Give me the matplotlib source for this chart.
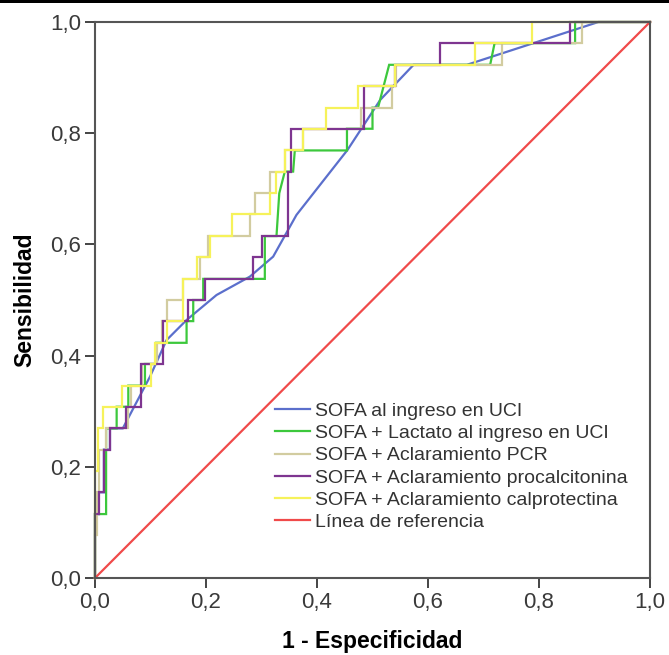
import matplotlib
matplotlib.use("Agg")
import matplotlib.pyplot as plt
from matplotlib.patches import Rectangle

# ROC curves: 1 - specificity (fpr) vs sensitivity (tpr), stepwise vertices
labels = ["SOFA al ingreso en UCI", "SOFA + Lactato al ingreso en UCI",
          "SOFA + Aclaramiento PCR", "SOFA + Aclaramiento procalcitonina",
          "SOFA + Aclaramiento calprotectina", "Línea de referencia"]
colors = ["#5b6fcc", "#3cc83c", "#d2cca0", "#7e3590", "#f6f25a", "#f04a4a"]

sofa_fpr = [0, 0, 0.007, 0.007, 0.016, 0.016, 0.027, 0.027, 0.05, 0.099, 0.129, 0.165,
            0.219, 0.279, 0.321, 0.363, 0.455, 0.514, 0.574, 0.67, 0.907, 1.0]
sofa_tpr = [0, 0.115, 0.115, 0.154, 0.154, 0.231, 0.231, 0.269, 0.269, 0.362, 0.428, 0.464,
            0.509, 0.542, 0.578, 0.653, 0.77, 0.86, 0.923, 0.923, 1.0, 1.0]

lact_fpr = [0, 0, 0.02, 0.02, 0.039, 0.039, 0.06, 0.06, 0.09, 0.09, 0.11, 0.11, 0.165, 0.165,
            0.177, 0.177, 0.195, 0.195, 0.306, 0.306, 0.327, 0.332, 0.342, 0.357, 0.36, 0.454,
            0.454, 0.5, 0.5, 0.51, 0.53, 0.712, 0.72, 0.865, 0.865, 1.0]
lact_tpr = [0, 0.115, 0.115, 0.269, 0.269, 0.308, 0.308, 0.346, 0.346, 0.385, 0.385, 0.423,
            0.423, 0.462, 0.462, 0.5, 0.5, 0.538, 0.538, 0.615, 0.615, 0.692, 0.731, 0.731,
            0.769, 0.769, 0.808, 0.808, 0.846, 0.846, 0.923, 0.923, 0.962, 0.962, 1.0, 1.0]

pcr_fpr = [0, 0, 0.004, 0.004, 0.008, 0.008, 0.02, 0.02, 0.06, 0.06, 0.065, 0.065, 0.084, 0.084,
           0.111, 0.111, 0.12, 0.12, 0.129, 0.129, 0.159, 0.159, 0.19, 0.19, 0.204, 0.204, 0.28,
           0.28, 0.288, 0.288, 0.315, 0.315, 0.342, 0.342, 0.375, 0.375, 0.48, 0.48, 0.535,
           0.535, 0.542, 0.542, 0.733, 0.733, 0.877, 0.877, 1.0]
pcr_tpr = [0, 0.077, 0.077, 0.154, 0.154, 0.231, 0.231, 0.269, 0.269, 0.308, 0.308, 0.346,
           0.346, 0.385, 0.385, 0.423, 0.423, 0.462, 0.462, 0.5, 0.5, 0.538, 0.538, 0.577,
           0.577, 0.615, 0.615, 0.654, 0.654, 0.692, 0.692, 0.731, 0.731, 0.769, 0.769, 0.808,
           0.808, 0.846, 0.846, 0.885, 0.885, 0.923, 0.923, 0.962, 0.962, 1.0, 1.0]

pct_fpr = [0, 0, 0.007, 0.007, 0.016, 0.016, 0.027, 0.027, 0.055, 0.055, 0.083, 0.083, 0.123,
           0.123, 0.168, 0.168, 0.198, 0.198, 0.285, 0.285, 0.3, 0.3, 0.348, 0.348, 0.354,
           0.354, 0.485, 0.485, 0.54, 0.54, 0.622, 0.622, 0.855, 0.855, 1.0]
pct_tpr = [0, 0.115, 0.115, 0.154, 0.154, 0.231, 0.231, 0.269, 0.269, 0.308, 0.308, 0.385,
           0.385, 0.462, 0.462, 0.5, 0.5, 0.538, 0.538, 0.577, 0.577, 0.615, 0.615, 0.731,
           0.731, 0.808, 0.808, 0.885, 0.885, 0.923, 0.923, 0.962, 0.962, 1.0, 1.0]

calp_fpr = [0, 0, 0.005, 0.005, 0.015, 0.015, 0.048, 0.048, 0.1, 0.1, 0.108, 0.108, 0.129,
            0.129, 0.159, 0.159, 0.183, 0.183, 0.207, 0.207, 0.246, 0.246, 0.315, 0.315, 0.327,
            0.327, 0.342, 0.342, 0.375, 0.375, 0.417, 0.417, 0.474, 0.474, 0.54, 0.54, 0.685,
            0.685, 0.787, 0.787, 1.0]
calp_tpr = [0, 0.192, 0.192, 0.269, 0.269, 0.308, 0.308, 0.346, 0.346, 0.385, 0.385, 0.423,
            0.423, 0.462, 0.462, 0.538, 0.538, 0.577, 0.577, 0.615, 0.615, 0.654, 0.654, 0.692,
            0.692, 0.731, 0.731, 0.769, 0.769, 0.808, 0.808, 0.846, 0.846, 0.885, 0.885, 0.923,
            0.923, 0.962, 0.962, 1.0, 1.0]

ref_x = [0, 1]
ref_y = [0, 1]

ticks = [0, 0.2, 0.4, 0.6, 0.8, 1.0]
tick_labels = ["0,0", "0,2", "0,4", "0,6", "0,8", "1,0"]

plt.rcParams["font.family"] = ["Liberation Sans", "DejaVu Sans"]

fig = plt.figure(figsize=(6.69, 6.55), dpi=100)
ax = fig.add_axes([95 / 669, 77 / 655, 555 / 669, 556 / 655])

curves = [(sofa_fpr, sofa_tpr), (lact_fpr, lact_tpr), (pcr_fpr, pcr_tpr),
          (pct_fpr, pct_tpr), (calp_fpr, calp_tpr), (ref_x, ref_y)]
for (x, y), c, lab in zip(curves, colors, labels):
    ax.plot(x, y, color=c, lw=1.6, label=lab, solid_joinstyle="miter", clip_on=False)

ax.set_xlim(0, 1)
ax.set_ylim(0, 1)
ax.set_xticks(ticks)
ax.set_yticks(ticks)
ax.set_xticklabels(tick_labels, fontsize=16, color="#3a3a3a")
ax.set_yticklabels(tick_labels, fontsize=16, color="#3a3a3a")
ax.tick_params(direction="out", length=7, width=1.4, color="#444444", pad=3)

for s in ax.spines.values():
    s.set_color("#555555")
    s.set_linewidth(1.5)

ax.set_xlabel("1 - Especificidad", fontsize=16.5, fontweight="bold", labelpad=12)
ax.set_ylabel("Sensibilidad", fontsize=16.5, fontweight="bold", labelpad=10)

leg = ax.legend(loc="upper left", bbox_to_anchor=(0.324, 0.316), frameon=False,
                fontsize=14, handlelength=1.8, handletextpad=0.25, labelspacing=0.24,
                borderpad=0, borderaxespad=0)
for t in leg.get_texts():
    t.set_color("#333333")

# dark strip along the top edge
fig.add_artist(Rectangle((0, 1 - 3 / 655), 1, 3 / 655, transform=fig.transFigure,
                         color="black", lw=0))

fig.savefig("out.png", dpi=100)
